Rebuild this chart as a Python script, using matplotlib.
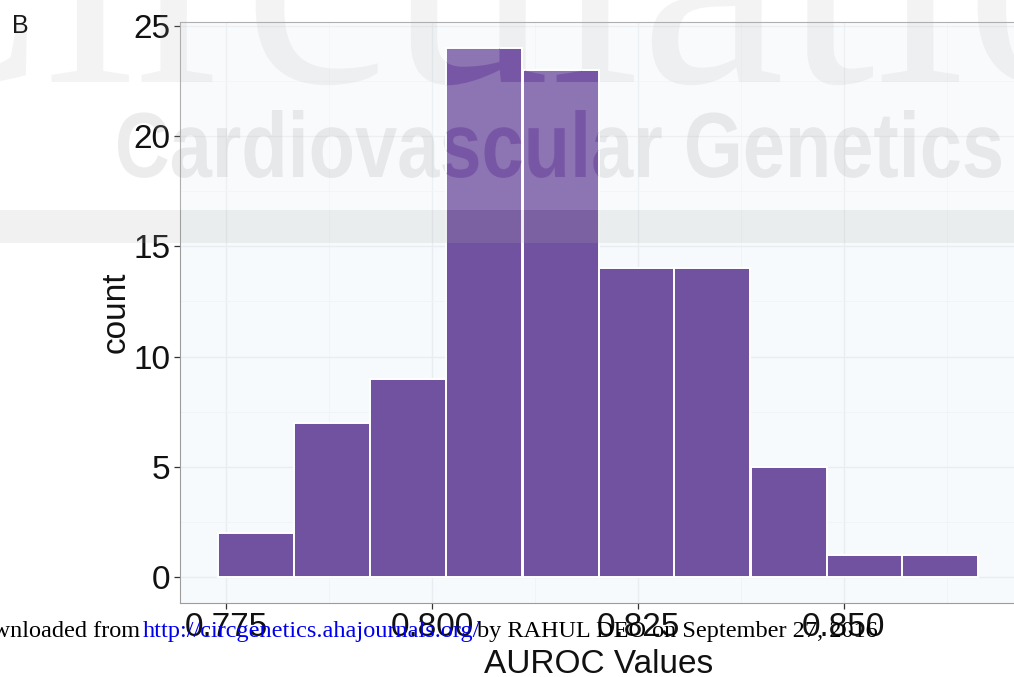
import matplotlib
matplotlib.use("Agg")
import matplotlib.pyplot as plt
from matplotlib.patches import Rectangle, PathPatch
from matplotlib.textpath import TextPath
from matplotlib.font_manager import FontProperties
from matplotlib.transforms import Affine2D
from matplotlib.path import Path

W, H = 1014, 677

# AUROC distribution: lower edge of each bin and its count
bin_left = [0.7740, 0.7832, 0.7925, 0.8017, 0.8110, 0.8202, 0.8294, 0.8387, 0.8479, 0.8571]
bin_width = 0.00924
counts = [2, 7, 9, 24, 23, 14, 14, 5, 1, 1]

x_ticks = [0.775, 0.800, 0.825, 0.850]
x_ticklabels = ["0.775", "0.800", "0.825", "0.850"]
x_minor = [0.7875, 0.8125, 0.8375, 0.8625]
y_ticks = [0, 5, 10, 15, 20, 25]
y_minor = [2.5, 7.5, 12.5, 17.5, 22.5]

BAR = "#7152a0"
BAR_UNDER_MARK = "#7856a6"
PANEL = "#f7fafc"
GRID = "#e8edf1"
GRID_MINOR = "#f0f3f6"
INK = "#111111"

plt.rcParams["font.family"] = ["Liberation Sans", "DejaVu Sans"]

fig = plt.figure(figsize=(W / 100, H / 100), dpi=100)
rect = [180 / W, 74 / H, 837 / W, 581 / H]

# ── histogram panel ──────────────────────────────────────────────────────────
ax = fig.add_axes(rect)
ax.set_facecolor(PANEL)
ax.bar(bin_left, counts, width=bin_width, align="edge", color=BAR,
       edgecolor="white", linewidth=1.4, zorder=3)
ax.set_xlim(0.76938, 0.87102)
ax.set_ylim(-1.2, 25.2)
ax.set_xticks(x_ticks)
ax.set_xticklabels(x_ticklabels)
ax.set_xticks(x_minor, minor=True)
ax.set_yticks(y_ticks)
ax.set_yticks(y_minor, minor=True)
ax.grid(which="major", color=GRID, linewidth=1.0)
ax.grid(which="minor", color=GRID_MINOR, linewidth=0.6)
ax.set_axisbelow(True)
ax.tick_params(which="major", length=4.3, width=0.9, color="#333333",
               labelsize=24, pad=2.5, labelcolor=INK)
ax.tick_params(which="minor", length=0)
for s in ax.spines.values():
    s.set_color("#9c9c9c")
    s.set_linewidth(0.8)
ax.set_xlabel("AUROC Values", fontsize=24, labelpad=4, color=INK)
ax.set_ylabel("count", fontsize=24, labelpad=1.5, color=INK)

fig.text(12 / W, 1 - 26 / H, "B", fontsize=18, color="#1a1a1a",
         ha="left", va="center", zorder=10)

# ── journal watermark (pixel coords, y down) ─────────────────────────────────
px = Affine2D().scale(1 / W, -1 / H).translate(0, 1) + fig.transFigure

fig.add_artist(Rectangle((180, 0), W - 180, 210, transform=px,
                         facecolor="white", alpha=0.2, linewidth=0, zorder=5))
fig.add_artist(Rectangle((0, 210), W, 33, transform=px, facecolor="#aeaeae",
                         alpha=0.17, linewidth=0, zorder=5))

serif = FontProperties(family="Liberation Serif")
tp_title = TextPath((0, 0), "Circulation", size=325, prop=serif)
path_title = Affine2D().scale(1, -1).translate(-172, 82).transform_path(tp_title)

bold = FontProperties(family="Liberation Sans", weight="bold")
tp_sub = TextPath((0, 0), "Cardiovascular Genetics", size=100, prop=bold)
ext = tp_sub.get_extents()
sx = (1001 - 118) / ext.width
sy = (177 - 110) / ext.y1
path_sub = (Affine2D().translate(-ext.x0, 0).scale(sx, -sy).translate(118, 177)
            .transform_path(tp_sub))

fig.add_artist(PathPatch(path_title, transform=px, facecolor="#a8a8a8",
                         alpha=0.13, linewidth=0, zorder=6))
fig.add_artist(PathPatch(path_sub, transform=px, facecolor="#a0a0a0",
                         edgecolor="none", alpha=0.2, linewidth=0, zorder=6))

# bars seen through the lettering keep their own tone
marks = Path.make_compound_path(path_title, path_sub)
ax_mark = fig.add_axes(rect, zorder=7)
ax_mark.set_xlim(ax.get_xlim())
ax_mark.set_ylim(ax.get_ylim())
ax_mark.axis("off")
bars = ax_mark.bar(bin_left, counts, width=bin_width, align="edge",
                   color=BAR_UNDER_MARK, edgecolor="white", linewidth=1.4)
for b in bars:
    b.set_clip_path(marks, px)

# ── download stamp ───────────────────────────────────────────────────────────
base = 1 - 637 / H
stamp = dict(fontsize=17.5, family="Liberation Serif", va="baseline", zorder=9)
fig.text(140 / W, base, "Downloaded from", ha="right", color="black", **stamp)
fig.text(143 / W, base, "http://circgenetics.ahajournals.org/", ha="left",
         color="#0000ee", **stamp)
fig.text(477 / W, base, "by RAHUL DEO on September 27, 2016", ha="left",
         color="black", **stamp)

fig.savefig("out.png", dpi=100)
